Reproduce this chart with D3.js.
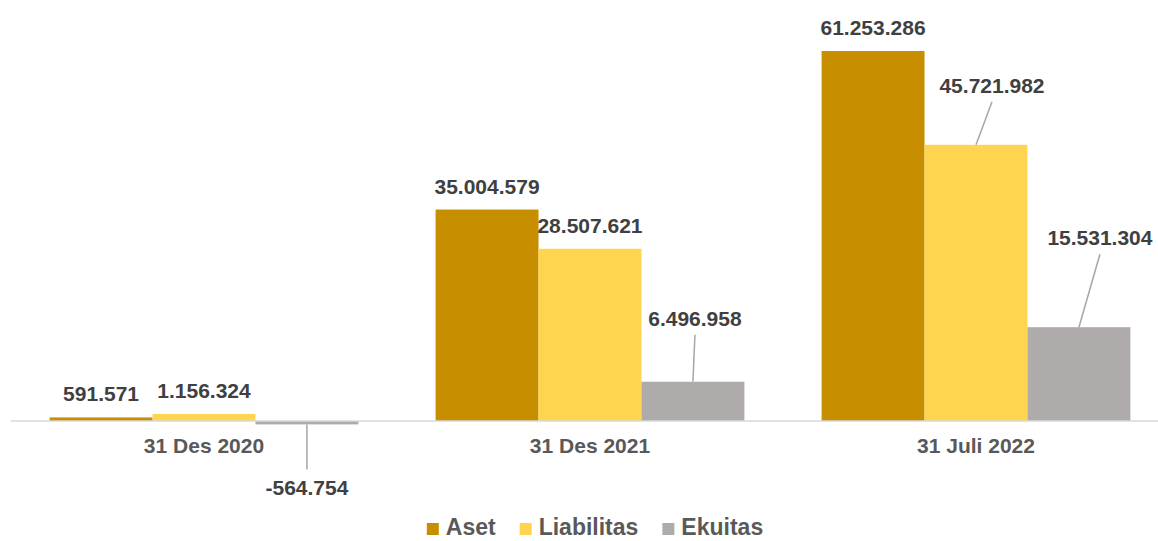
<!DOCTYPE html>
<html>
<head>
<meta charset="utf-8">
<script src="https://cdn.jsdelivr.net/npm/d3@7"></script>
<style>
  body { margin: 0; background: #fff; }
  text { font-family: "Liberation Sans", Arial, sans-serif; font-weight: bold; }
</style>
</head>
<body>
<div id="chart"></div>
<script>
var categories = ["31 Des 2020", "31 Des 2021", "31 Juli 2022"];
var seriesNames = ["Aset", "Liabilitas", "Ekuitas"];
var aset = [591571, 35004579, 61253286];
var liabilitas = [1156324, 28507621, 45721982];
var ekuitas = [-564754, 6496958, 15531304];

var width = 1158;
var height = 541;
var colors = ["#C78F00", "#FFD54F", "#AFABAB"];

// label nudges (dx, dy from default spot above the bar), leader line if moved
var labelShift = {
  "2-0": { dx: 0, dy: 0, below: true },
  "2-1": { dx: 2, dy: -40 },
  "1-2": { dx: 16, dy: -36 },
  "2-2": { dx: 21, dy: -66 }
};

var values = [aset, liabilitas, ekuitas];
var rows = [];
categories.forEach(function (c, i) {
  seriesNames.forEach(function (s, j) {
    rows.push({ cat: c, ci: i, series: s, si: j, value: values[j][i] });
  });
});

var svg = d3.select("#chart").append("svg")
  .attr("width", width)
  .attr("height", height);

var x0 = d3.scaleBand()
  .domain(categories)
  .range([11, 1169])
  .paddingInner(0.2)
  .paddingOuter(0.1);

var x1 = d3.scaleBand()
  .domain(seriesNames)
  .range([0, x0.bandwidth()]);

var y = d3.scaleLinear()
  .domain([0, 61253286])
  .range([421, 51]);

// bars
svg.append("g")
  .selectAll("rect")
  .data(rows)
  .enter()
  .append("rect")
  .attr("x", function (d) { return x0(d.cat) + x1(d.series); })
  .attr("width", x1.bandwidth())
  .attr("y", function (d) { return y(Math.max(0, d.value)); })
  .attr("height", function (d) { return Math.abs(y(d.value) - y(0)); })
  .attr("fill", function (d) { return colors[d.si]; });

// zero line
svg.append("line")
  .attr("x1", 11)
  .attr("x2", width)
  .attr("y1", y(0))
  .attr("y2", y(0))
  .attr("stroke", "#D9D9D9")
  .attr("stroke-width", 1.5);

// category labels
svg.append("g")
  .selectAll("text")
  .data(categories)
  .enter()
  .append("text")
  .attr("x", function (d) { return x0(d) + x0.bandwidth() / 2; })
  .attr("y", 453)
  .attr("text-anchor", "middle")
  .attr("fill", "#595959")
  .style("font-size", "21px")
  .text(function (d) { return d; });

var fmt = function (v) {
  var s = d3.format(",")(Math.abs(v)).replace(/,/g, ".");
  return (v < 0 ? "-" : "") + s;
};

// data labels + leader lines
rows.forEach(function (d) {
  var cx = x0(d.cat) + x1(d.series) + x1.bandwidth() / 2;
  var top = y(Math.max(0, d.value));
  var shift = labelShift[d.si + "-" + d.ci];
  var lx = cx, ly = top - 16;
  if (shift && shift.below) {
    ly = y(d.value) + 71;
    svg.append("line")
      .attr("x1", cx).attr("x2", cx)
      .attr("y1", y(d.value)).attr("y2", ly - 26)
      .attr("stroke", "#A6A6A6").attr("stroke-width", 1.5);
  } else if (shift) {
    lx = cx + shift.dx;
    ly = top - 16 + shift.dy;
    svg.append("line")
      .attr("x1", cx).attr("y1", top)
      .attr("x2", lx).attr("y2", ly + 9)
      .attr("stroke", "#A6A6A6").attr("stroke-width", 1.5);
  }
  svg.append("text")
    .attr("x", lx)
    .attr("y", ly)
    .attr("text-anchor", "middle")
    .attr("fill", "#404040")
    .style("font-size", "21px")
    .text(fmt(d.value));
});

// legend
var legend = svg.append("g");
var lx = 0;
seriesNames.forEach(function (s, i) {
  var g = legend.append("g").attr("transform", "translate(" + lx + ",0)");
  g.append("rect")
    .attr("x", 0).attr("y", -12)
    .attr("width", 12).attr("height", 12)
    .attr("fill", colors[i]);
  var t = g.append("text")
    .attr("x", 19).attr("y", 0)
    .attr("fill", "#595959")
    .style("font-size", "23px")
    .text(s);
  lx += 19 + t.node().getComputedTextLength() + 24;
});
var legendW = lx - 24;
legend.attr("transform", "translate(" + (595 - legendW / 2) + ",535)");
</script>
</body>
</html>
